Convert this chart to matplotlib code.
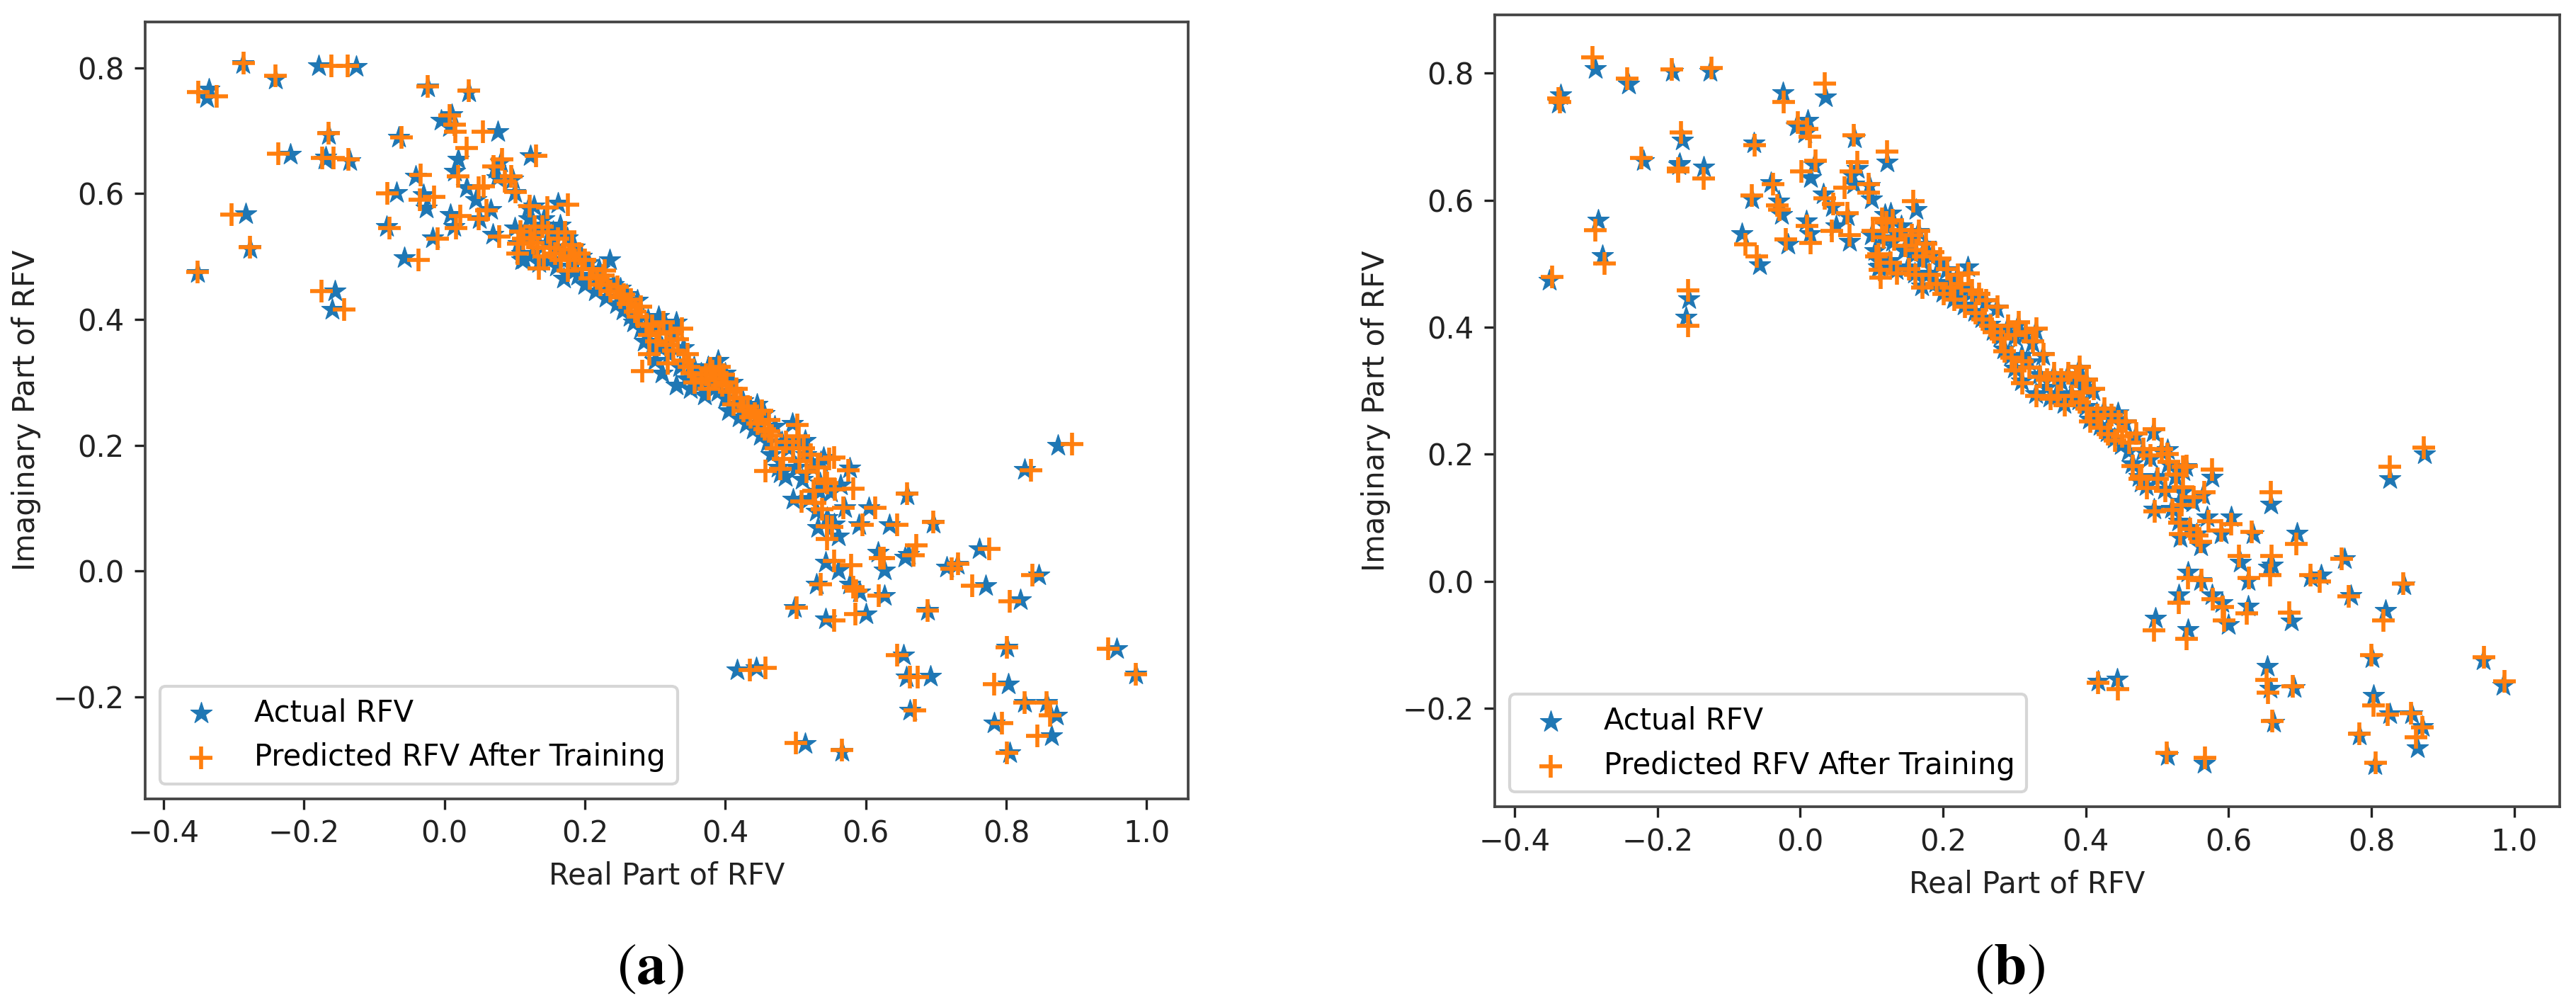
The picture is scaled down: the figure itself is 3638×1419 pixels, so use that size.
import matplotlib
matplotlib.use("Agg")
import matplotlib.pyplot as plt

# ---------------- data ----------------
# Outliers (upper-left region): actual, predicted (a), predicted (b)
outer_act_re = [-0.351, -0.335, -0.338, -0.287, -0.240, -0.179, -0.126, -0.165, -0.219, -0.169, -0.135, -0.170,
                -0.283, -0.277, -0.156, -0.160]
outer_act_im = [0.474, 0.766, 0.752, 0.807, 0.782, 0.803, 0.802, 0.694, 0.662, 0.658, 0.652, 0.655,
                0.568, 0.513, 0.445, 0.416]
outer_pa_re = [-0.351, -0.350, -0.324, -0.286, -0.240, -0.161, -0.138, -0.165, -0.236, -0.174, -0.137, -0.158,
               -0.303, -0.277, -0.175, -0.143]
outer_pa_im = [0.476, 0.761, 0.755, 0.808, 0.787, 0.803, 0.803, 0.696, 0.663, 0.657, 0.654, 0.657,
               0.567, 0.515, 0.445, 0.416]
outer_pb_re = [-0.347, -0.338, -0.336, -0.291, -0.242, -0.180, -0.124, -0.167, -0.222, -0.171, -0.135, -0.171,
               -0.287, -0.274, -0.157, -0.157]
outer_pb_im = [0.479, 0.760, 0.755, 0.825, 0.791, 0.806, 0.808, 0.707, 0.667, 0.645, 0.634, 0.650,
               0.553, 0.500, 0.458, 0.402]

# Upper-middle scatter
mid_act_re = [-0.024, 0.035, -0.005, 0.007, 0.011, 0.076, 0.122, -0.065, 0.020, 0.015, -0.041, -0.068, -0.026,
              -0.030, 0.009, 0.032, 0.072, 0.075, 0.080, 0.100, -0.082, -0.057, -0.017, 0.014, 0.050, 0.066,
              0.069, 0.119, 0.127, 0.142, 0.162, 0.097, 0.113, 0.110, 0.045]
mid_act_im = [0.769, 0.762, 0.717, 0.706, 0.726, 0.698, 0.660, 0.690, 0.655, 0.635, 0.628, 0.602, 0.577,
              0.598, 0.567, 0.610, 0.640, 0.625, 0.650, 0.602, 0.547, 0.498, 0.530, 0.547, 0.560, 0.575,
              0.535, 0.577, 0.580, 0.560, 0.585, 0.623, 0.496, 0.505, 0.590]
mid_pa_re = [-0.024, 0.035, 0.007, 0.015, 0.016, 0.055, 0.130, -0.061, 0.032, 0.020, -0.034, -0.081, -0.035,
             -0.015, 0.023, 0.049, 0.070, 0.095, 0.082, 0.101, -0.078, -0.037, -0.010, 0.017, 0.049, 0.060,
             0.078, 0.121, 0.147, 0.140, 0.176, 0.086, 0.135, 0.105, 0.056]
mid_pa_im = [0.770, 0.764, 0.724, 0.710, 0.699, 0.698, 0.660, 0.690, 0.672, 0.627, 0.630, 0.600, 0.590,
             0.595, 0.565, 0.610, 0.643, 0.628, 0.655, 0.603, 0.545, 0.495, 0.528, 0.545, 0.560, 0.573,
             0.532, 0.580, 0.578, 0.548, 0.582, 0.620, 0.481, 0.520, 0.612]
mid_pb_re = [-0.023, 0.034, -0.003, 0.010, 0.014, 0.075, 0.122, -0.064, 0.022, 0.002, -0.038, -0.068, -0.029,
             -0.032, 0.010, 0.034, 0.071, 0.062, 0.080, 0.096, -0.077, -0.061, -0.020, 0.015, 0.044, 0.066,
             0.069, 0.115, 0.130, 0.142, 0.158, 0.096, 0.113, 0.110, 0.046]
mid_pb_im = [0.755, 0.783, 0.722, 0.712, 0.700, 0.702, 0.676, 0.686, 0.662, 0.645, 0.625, 0.607, 0.585,
             0.592, 0.560, 0.603, 0.645, 0.620, 0.660, 0.612, 0.531, 0.511, 0.538, 0.533, 0.552, 0.580,
             0.545, 0.571, 0.568, 0.553, 0.598, 0.625, 0.478, 0.515, 0.594]

# Dense band
band_act_re = [0.100, 0.105, 0.110, 0.115, 0.120, 0.125, 0.130, 0.135, 0.140, 0.145, 0.150, 0.155, 0.160, 0.160,
               0.165, 0.170, 0.170, 0.175, 0.180, 0.185, 0.190, 0.195, 0.200, 0.205, 0.210, 0.215, 0.220,
               0.225, 0.230, 0.235, 0.240, 0.245, 0.250, 0.255, 0.260, 0.265, 0.270, 0.275, 0.280, 0.285,
               0.290, 0.295, 0.300, 0.300, 0.305, 0.310, 0.310, 0.315, 0.320, 0.325, 0.330, 0.330, 0.335, 0.340,
               0.345, 0.350, 0.355, 0.360, 0.365, 0.370, 0.375, 0.380, 0.385, 0.390, 0.390, 0.395, 0.400,
               0.400, 0.405, 0.410, 0.415, 0.420, 0.425, 0.430, 0.435, 0.440, 0.445, 0.450, 0.455,
               0.460, 0.465, 0.470, 0.475, 0.480, 0.485, 0.490, 0.495, 0.500, 0.505, 0.510, 0.515, 0.520,
               0.525, 0.530, 0.535, 0.540, 0.545, 0.550, 0.555]
band_act_im = [0.545, 0.520, 0.495, 0.540, 0.560, 0.505, 0.535, 0.490, 0.550, 0.520, 0.495, 0.540, 0.485, 0.515,
               0.550, 0.465, 0.505, 0.530, 0.485, 0.515, 0.470, 0.500, 0.455, 0.490, 0.470, 0.445, 0.480,
               0.460, 0.435, 0.495, 0.455, 0.425, 0.450, 0.415, 0.440, 0.405, 0.395, 0.430, 0.385, 0.365,
               0.400, 0.355, 0.385, 0.335, 0.405, 0.355, 0.315, 0.390, 0.345, 0.375, 0.295, 0.395, 0.325, 0.355,
               0.305, 0.290, 0.325, 0.295, 0.315, 0.280, 0.325, 0.295, 0.320, 0.285, 0.335, 0.305, 0.275,
               0.315, 0.255, 0.300, 0.265, 0.245, 0.270, 0.235, 0.260, 0.225, 0.265, 0.215, 0.250,
               0.205, 0.185, 0.230, 0.165, 0.205, 0.150, 0.195, 0.235, 0.165, 0.205, 0.145, 0.185, 0.115,
               0.165, 0.095, 0.140, 0.180, 0.085, 0.125, 0.075]
band_pa_re = [0.108, 0.112, 0.104, 0.122, 0.128, 0.133, 0.126, 0.142, 0.148, 0.151, 0.158, 0.162, 0.166, 0.171,
              0.172, 0.176, 0.178, 0.182, 0.186, 0.192, 0.196, 0.200, 0.207, 0.211, 0.217, 0.222, 0.226,
              0.232, 0.236, 0.228, 0.246, 0.250, 0.256, 0.262, 0.266, 0.272, 0.276, 0.280, 0.288, 0.292,
              0.296, 0.302, 0.306, 0.292, 0.312, 0.316, 0.318, 0.322, 0.326, 0.332, 0.282, 0.338, 0.341, 0.346,
              0.352, 0.356, 0.348, 0.366, 0.372, 0.376, 0.382, 0.386, 0.378, 0.396, 0.392, 0.402, 0.406,
              0.398, 0.412, 0.416, 0.422, 0.426, 0.432, 0.436, 0.442, 0.446, 0.452, 0.456, 0.462,
              0.466, 0.472, 0.462, 0.482, 0.486, 0.478, 0.496, 0.502, 0.506, 0.512, 0.516, 0.522, 0.526,
              0.532, 0.528, 0.542, 0.548, 0.538, 0.556, 0.552]
band_pa_im = [0.540, 0.528, 0.505, 0.530, 0.548, 0.515, 0.522, 0.500, 0.538, 0.514, 0.505, 0.528, 0.495, 0.512,
              0.538, 0.478, 0.500, 0.518, 0.495, 0.505, 0.480, 0.495, 0.465, 0.480, 0.465, 0.455, 0.470,
              0.455, 0.445, 0.478, 0.452, 0.435, 0.440, 0.425, 0.432, 0.412, 0.405, 0.420, 0.392, 0.375,
              0.390, 0.365, 0.378, 0.345, 0.395, 0.360, 0.330, 0.380, 0.350, 0.368, 0.318, 0.385, 0.335, 0.345,
              0.315, 0.300, 0.325, 0.305, 0.312, 0.290, 0.318, 0.305, 0.322, 0.295, 0.325, 0.300, 0.285,
              0.312, 0.265, 0.290, 0.275, 0.255, 0.262, 0.245, 0.250, 0.235, 0.255, 0.225, 0.240,
              0.215, 0.195, 0.222, 0.178, 0.205, 0.162, 0.195, 0.232, 0.175, 0.195, 0.158, 0.185, 0.128,
              0.165, 0.108, 0.145, 0.178, 0.098, 0.130, 0.070]
band_pb_re = [0.102, 0.107, 0.112, 0.117, 0.121, 0.127, 0.132, 0.136, 0.141, 0.147, 0.152, 0.156, 0.161, 0.162,
              0.166, 0.171, 0.172, 0.176, 0.181, 0.186, 0.191, 0.196, 0.201, 0.206, 0.211, 0.216, 0.221,
              0.226, 0.231, 0.236, 0.241, 0.246, 0.251, 0.256, 0.261, 0.266, 0.271, 0.276, 0.281, 0.286,
              0.291, 0.296, 0.301, 0.301, 0.306, 0.311, 0.311, 0.316, 0.321, 0.326, 0.331, 0.331, 0.336, 0.341,
              0.346, 0.351, 0.356, 0.361, 0.366, 0.371, 0.376, 0.381, 0.386, 0.391, 0.391, 0.396, 0.401,
              0.401, 0.406, 0.411, 0.416, 0.421, 0.426, 0.431, 0.436, 0.441, 0.446, 0.451, 0.456,
              0.461, 0.466, 0.471, 0.476, 0.481, 0.486, 0.491, 0.496, 0.501, 0.506, 0.511, 0.516, 0.521,
              0.526, 0.531, 0.536, 0.541, 0.546, 0.551, 0.556]
band_pb_im = [0.552, 0.512, 0.490, 0.542, 0.565, 0.502, 0.538, 0.485, 0.553, 0.528, 0.492, 0.545, 0.482, 0.522,
              0.552, 0.462, 0.512, 0.532, 0.482, 0.518, 0.468, 0.508, 0.452, 0.492, 0.462, 0.443, 0.482,
              0.468, 0.432, 0.485, 0.458, 0.422, 0.452, 0.412, 0.442, 0.402, 0.392, 0.432, 0.382, 0.362,
              0.402, 0.352, 0.388, 0.332, 0.408, 0.347, 0.312, 0.392, 0.337, 0.378, 0.292, 0.398, 0.322, 0.358,
              0.318, 0.287, 0.328, 0.292, 0.318, 0.277, 0.328, 0.292, 0.322, 0.282, 0.338, 0.297, 0.272,
              0.318, 0.252, 0.303, 0.262, 0.242, 0.272, 0.232, 0.262, 0.222, 0.252, 0.228, 0.252,
              0.218, 0.182, 0.233, 0.162, 0.208, 0.147, 0.198, 0.240, 0.162, 0.208, 0.142, 0.188, 0.112,
              0.168, 0.092, 0.148, 0.182, 0.082, 0.132, 0.072]

# Lower-right scatter
low_act_re = [0.874, 0.826, 0.659, 0.696, 0.762, 0.846, 0.771, 0.820, 0.688, 0.600, 0.543, 0.498, 0.530, 0.577,
              0.591, 0.627, 0.715, 0.730, 0.661, 0.656, 0.627, 0.617, 0.543, 0.561, 0.604, 0.634, 0.590,
              0.561, 0.532, 0.577, 0.564, 0.570, 0.496, 0.514, 0.478, 0.536, 0.534, 0.417, 0.444, 0.654,
              0.692, 0.658, 0.663, 0.514, 0.566, 0.801, 0.803, 0.826, 0.857, 0.871, 0.783, 0.864, 0.805,
              0.957, 0.984]
low_act_im = [0.200, 0.161, 0.121, 0.076, 0.035, -0.006, -0.023, -0.046, -0.063, -0.068, -0.076, -0.058, -0.021,
              -0.021, -0.034, -0.039, 0.006, 0.010, 0.026, 0.022, 0.001, 0.030, 0.014, 0.001, 0.101, 0.074,
              0.074, 0.056, 0.069, 0.164, 0.136, 0.101, 0.114, 0.207, 0.156, 0.174, 0.126, -0.157, -0.154,
              -0.134, -0.167, -0.169, -0.222, -0.274, -0.287, -0.121, -0.180, -0.209, -0.209, -0.229, -0.242,
              -0.262, -0.289, -0.124, -0.164]
low_pa_re = [0.894, 0.835, 0.659, 0.696, 0.776, 0.837, 0.752, 0.805, 0.688, 0.585, 0.555, 0.501, 0.536, 0.582,
             0.586, 0.618, 0.731, 0.722, 0.672, 0.668, 0.620, 0.625, 0.555, 0.579, 0.613, 0.645, 0.595,
             0.545, 0.545, 0.575, 0.582, 0.568, 0.509, 0.505, 0.457, 0.555, 0.545, 0.435, 0.457, 0.645,
             0.674, 0.663, 0.670, 0.500, 0.566, 0.801, 0.783, 0.826, 0.857, 0.862, 0.794, 0.844, 0.801,
             0.945, 0.984]
low_pa_im = [0.202, 0.160, 0.123, 0.078, 0.035, -0.006, -0.023, -0.048, -0.063, -0.068, -0.078, -0.058, -0.021,
             -0.026, -0.031, -0.039, 0.012, 0.004, 0.041, 0.025, 0.021, 0.020, 0.016, 0.009, 0.101, 0.074,
             0.074, 0.051, 0.071, 0.160, 0.131, 0.101, 0.111, 0.214, 0.159, 0.181, 0.140, -0.157, -0.154,
             -0.134, -0.169, -0.169, -0.222, -0.273, -0.285, -0.121, -0.180, -0.209, -0.209, -0.229, -0.242,
             -0.262, -0.289, -0.124, -0.164]
low_pb_re = [0.873, 0.826, 0.659, 0.695, 0.758, 0.845, 0.768, 0.817, 0.685, 0.594, 0.541, 0.496, 0.530, 0.578,
             0.592, 0.625, 0.715, 0.728, 0.660, 0.658, 0.628, 0.615, 0.543, 0.562, 0.604, 0.632, 0.590,
             0.561, 0.532, 0.577, 0.566, 0.572, 0.497, 0.514, 0.478, 0.536, 0.534, 0.417, 0.445, 0.653,
             0.690, 0.655, 0.661, 0.513, 0.567, 0.800, 0.803, 0.823, 0.856, 0.871, 0.783, 0.862, 0.806,
             0.958, 0.986]
low_pb_im = [0.211, 0.180, 0.140, 0.059, 0.035, -0.003, -0.024, -0.062, -0.049, -0.062, -0.091, -0.077, -0.034,
             -0.028, -0.040, -0.050, 0.010, 0.000, 0.040, 0.010, 0.005, 0.040, 0.005, 0.002, 0.090, 0.078,
             0.080, 0.062, 0.075, 0.176, 0.140, 0.095, 0.110, 0.200, 0.165, 0.180, 0.120, -0.160, -0.170,
             -0.155, -0.165, -0.175, -0.220, -0.270, -0.278, -0.116, -0.195, -0.210, -0.208, -0.230, -0.240,
             -0.245, -0.286, -0.120, -0.157]

actual_re = outer_act_re + mid_act_re + band_act_re + low_act_re
actual_im = outer_act_im + mid_act_im + band_act_im + low_act_im
pred_a_re = outer_pa_re + mid_pa_re + band_pa_re + low_pa_re
pred_a_im = outer_pa_im + mid_pa_im + band_pa_im + low_pa_im
pred_b_re = outer_pb_re + mid_pb_re + band_pb_re + low_pb_re
pred_b_im = outer_pb_im + mid_pb_im + band_pb_im + low_pb_im

x_ticks = [-0.4, -0.2, 0.0, 0.2, 0.4, 0.6, 0.8, 1.0]
y_ticks = [-0.2, 0.0, 0.2, 0.4, 0.6, 0.8]
legend_labels = ["Actual RFV", "Predicted RFV After Training"]
panel_labels = ["a", "b"]

# ---------------- figure ----------------
W, H, DPI = 3638, 1419, 300
fig = plt.figure(figsize=(W / DPI, H / DPI), dpi=DPI)
plt.rcParams['font.family'] = ['DejaVu Sans']

ax_a = fig.add_axes([205 / W, 1 - 1127.7 / H, (1678 - 205) / W, (1127.7 - 31) / H])
ax_b = fig.add_axes([2110.7 / W, 1 - 1139.3 / H, (3614.7 - 2110.7) / W, (1139.3 - 20.7) / H])

panels = [
    (ax_a, pred_a_re, pred_a_im, (-0.426, 1.059), (-0.362, 0.873)),
    (ax_b, pred_b_re, pred_b_im, (-0.428, 1.0635), (-0.355, 0.892)),
]
for ax, pr, pi, xl, yl in panels:
    ax.scatter(actual_re, actual_im, marker='*', s=58, color='#1f77b4', linewidths=0.3,
               label=legend_labels[0])
    ax.scatter(pr, pi, marker='+', s=62, color='#ff7f0e', linewidths=1.35, label=legend_labels[1])
    ax.set_xlim(*xl)
    ax.set_ylim(*yl)
    ax.set_xticks(x_ticks)
    ax.set_yticks(y_ticks)
    ax.tick_params(labelsize=10, colors='#222222')
    for sp in ax.spines.values():
        sp.set_color('#444444')
        sp.set_linewidth(0.9)
    ax.set_xlabel("Real Part of RFV", fontsize=10, color='#222222')
    ax.set_ylabel("Imaginary Part of RFV", fontsize=10, color='#222222')
    ax.legend(loc='lower left', fontsize=10)

fig.text(919 / W, 1 - 1366 / H, r'$(\mathbf{%s})$' % panel_labels[0], ha='center', va='center',
         fontsize=20, math_fontfamily='stix')
fig.text(2838 / W, 1 - 1366 / H, r'$(\mathbf{%s})$' % panel_labels[1], ha='center', va='center',
         fontsize=20, math_fontfamily='stix')

fig.savefig("out.png", dpi=DPI)
